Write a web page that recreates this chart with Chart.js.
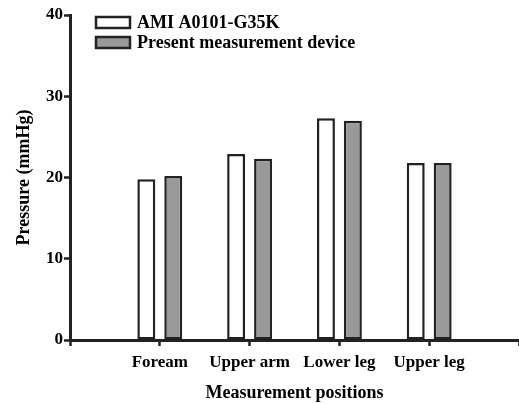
<!DOCTYPE html>
<html>
<head>
<meta charset="utf-8">
<script src="https://cdn.jsdelivr.net/npm/chart.js@4/dist/chart.umd.min.js"></script>
<style>
  html, body { margin: 0; padding: 0; background: #fff; }
  #wrap { width: 519px; height: 404px; }
</style>
</head>
<body>
<div id="wrap"><canvas id="pressureChart"></canvas></div>
<script>
const positions = ['Foream', 'Upper arm', 'Lower leg', 'Upper leg'];
const amiValues = [19.8, 22.9, 27.3, 21.8];
const deviceValues = [20.2, 22.3, 27.0, 21.8];
const yTicks = [0, 10, 20, 30, 40];

// blank slot before and after so the axis runs from the y-axis to the right edge
const labels = [''].concat(positions, ['']);
const pad = arr => [null].concat(arr, [null]);

const ink = '#222';
const serif = "'Liberation Serif', 'DejaVu Serif', serif";

const boxLegend = {
    id: 'boxLegend',
    afterDraw(chart) {
        const ctx = chart.ctx;
        ctx.save();
        chart.data.datasets.forEach((ds, i) => {
            const y = 17 + i * 20;
            ctx.fillStyle = ds.backgroundColor;
            ctx.strokeStyle = ink;
            ctx.lineWidth = 2.5;
            ctx.fillRect(96, y, 34, 11);
            ctx.strokeRect(96, y, 34, 11);
            ctx.fillStyle = '#000';
            ctx.font = 'bold 18px ' + serif;
            ctx.textBaseline = 'middle';
            ctx.fillText(ds.label, 137, y + 6);
        });
        ctx.restore();
    }
};

const ctx = document.getElementById('pressureChart').getContext('2d');
new Chart(ctx, {
    type: 'bar',
    data: {
        labels: labels,
        datasets: [{
            label: 'AMI A0101-G35K',
            data: pad(amiValues),
            backgroundColor: '#ffffff',
            borderColor: ink,
            borderWidth: 2.5,
            borderSkipped: false
        }, {
            label: 'Present measurement device',
            data: pad(deviceValues),
            backgroundColor: '#999999',
            borderColor: ink,
            borderWidth: 2.5,
            borderSkipped: false
        }]
    },
    options: {
        responsive: true,
        maintainAspectRatio: false,
        animation: false,
        datasets: {
            bar: { categoryPercentage: 0.6, barPercentage: 0.667 }
        },
        // axis runs a little past the right edge, as in the original figure
        layout: { padding: { top: 15, right: -2, left: 10, bottom: 0 } },
        plugins: {
            legend: { display: false },
            tooltip: { enabled: false }
        },
        scales: {
            x: {
                offset: false,
                grid: { offset: false, drawOnChartArea: false, drawTicks: true, tickLength: 6, tickWidth: 2.5, tickColor: ink },
                border: { color: ink, width: 3 },
                ticks: { color: '#000', font: { family: serif, size: 17, weight: 'bold' }, padding: 6, maxRotation: 0, autoSkip: false },
                title: { display: true, text: 'Measurement positions', color: '#000', font: { family: serif, size: 18, weight: 'bold' }, padding: { top: 8, bottom: 0 } },
                afterFit(scale) {
                    scale.height = 64;
                    scale.paddingRight = -2;
                }
            },
            y: {
                min: 0,
                max: 40,
                afterBuildTicks(scale) { scale.ticks = yTicks.map(v => ({ value: v })); },
                grid: { drawOnChartArea: false, drawTicks: true, tickLength: 6, tickWidth: 2.5, tickColor: ink },
                border: { color: ink, width: 3 },
                ticks: { color: '#000', font: { family: serif, size: 17, weight: 'bold' }, padding: 1 },
                title: { display: true, text: 'Pressure (mmHg)', color: '#000', font: { family: serif, size: 18, weight: 'bold' }, padding: { top: 4, bottom: 0 } },
                afterFit(scale) { scale.width = 60; }
            }
        }
    },
    plugins: [boxLegend]
});
</script>
</body>
</html>
